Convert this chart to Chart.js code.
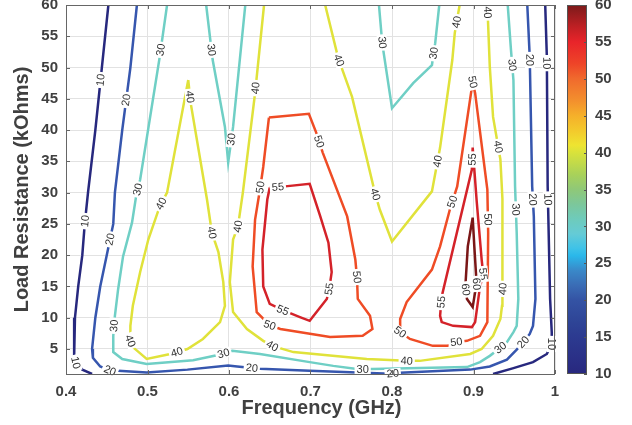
<!DOCTYPE html>
<html><head><meta charset="utf-8">
<script src="https://cdn.jsdelivr.net/npm/chart.js@4.4.1/dist/chart.umd.min.js"></script>
<style>html,body{margin:0;padding:0;background:#fff;}#wrap{width:632px;height:425px;}</style>
</head><body><div id="wrap"><canvas id="c" width="632" height="425"></canvas></div>
<script>
// ---- axis ticks ----
const xTickValues = [0.4, 0.5, 0.6, 0.7, 0.8, 0.9, 1];
const yTickValues = [5, 10, 15, 20, 25, 30, 35, 40, 45, 50, 55, 60];
const cbTickValues = [10, 15, 20, 25, 30, 35, 40, 45, 50, 55, 60];
const xTitle = 'Frequency (GHz)';
const yTitle = 'Load Resistance (kOhms)';

// ---- contour levels and colours ----
const levelColors = {10:'#27287e', 20:'#3656ae', 30:'#6fcfc5', 40:'#e0e23a', 50:'#ef4c25', 55:'#d42229', 60:'#7a1616'};

// ---- contour lines [frequency GHz, load kOhm] ----
const c10Left = [[0.452,60],[0.444,50],[0.436,40],[0.427,30],[0.423,25],[0.420,20],[0.415,15],[0.411,10],[0.410,5],[0.410,3.9],[0.412,2.8],[0.420,1.7],[0.432,1]];
const c10Right = [[0.988,60],[0.990,51.7],[0.991,31],[0.994,13],[0.996,7.7],[0.996,5.8],[0.990,4.2],[0.973,2.9],[0.948,1.9],[0.924,1]];
const c20 = [[0.487,60],[0.479,50],[0.469,40],[0.460,30],[0.458,25],[0.450,20],[0.442,15],[0.436,10],[0.432,5],[0.433,3.6],[0.442,2.2],[0.454,1.55],[0.464,1.5],[0.499,1.25],[0.549,1.7],[0.599,2.35],[0.610,2.2],[0.638,1.85],[0.699,1.5],[0.798,1.05],[0.810,1.2],[0.896,1.7],[0.920,2.2],[0.941,3.3],[0.953,4.9],[0.961,6.1],[0.969,7.4],[0.973,8.7],[0.976,13],[0.974,26.2],[0.972,31],[0.969,51.7],[0.966,60]];
const c30 = [[0.524,60],[0.515,51.7],[0.491,32.1],[0.486,29.4],[0.481,25.2],[0.470,19.8],[0.464,14.6],[0.460,10.3],[0.458,7.1],[0.458,4.5],[0.469,3.4],[0.499,2.6],[0.556,3.2],[0.585,4.0],[0.604,4.7],[0.638,4.2],[0.699,2.9],[0.728,2.3],[0.757,1.8],[0.776,1.8],[0.892,2.1],[0.908,2.9],[0.920,3.9],[0.933,5.2],[0.941,6.1],[0.949,7.7],[0.953,8.7],[0.955,13],[0.953,23.6],[0.951,31],[0.949,48],[0.946,52.8],[0.942,60]];
const c30VLeft = [[0.572,60],[0.580,51.2],[0.595,40.5],[0.599,34.8],[0.605,40.5],[0.620,60]];
const c30VRight = [[0.784,60],[0.788,53.9],[0.800,43.5],[0.826,47.5],[0.849,50.4],[0.853,53.9],[0.858,60]];
const c40Loop = [[0.550,48],[0.553,44.3],[0.573,28.9],[0.579,23.6],[0.587,20.5],[0.593,15.7],[0.595,11.9],[0.589,9.3],[0.568,6.6],[0.549,5.0],[0.528,4.2],[0.499,3.4],[0.482,5.3],[0.479,6.3],[0.479,8.7],[0.482,11.9],[0.491,17.3],[0.501,22.5],[0.515,27.8],[0.524,30],[0.550,48]];
const c40V = [[0.718,60],[0.734,51.5],[0.751,45.3],[0.779,30],[0.785,27.3],[0.800,22.2],[0.849,30.2],[0.859,37.2],[0.874,51.2],[0.877,55.5],[0.883,60]];
const c40U = [[0.643,60],[0.632,45.9],[0.617,30],[0.611,24.6],[0.605,22.5],[0.601,15.7],[0.605,10.9],[0.622,8.2],[0.642,6.3],[0.653,5.5],[0.679,4.5],[0.769,3.4],[0.818,3.1],[0.834,3.1],[0.896,4.2],[0.910,5.0],[0.924,7.1],[0.933,9.8],[0.935,11.9],[0.936,14.6],[0.935,29],[0.933,35.3],[0.924,42.1],[0.920,50.1],[0.917,60]];
const c50Mid = [[0.649,42],[0.698,42.6],[0.707,39.6],[0.715,36.4],[0.745,26.2],[0.755,19.3],[0.757,16.5],[0.758,13],[0.773,10.3],[0.776,8.2],[0.764,7.1],[0.724,6.9],[0.663,8.2],[0.650,8.8],[0.634,10.9],[0.629,18.2],[0.632,25.7],[0.638,30.5],[0.642,34.1],[0.649,42]];
const c55Mid = [[0.650,30.8],[0.669,31],[0.699,31.4],[0.712,26.2],[0.722,22],[0.726,17.3],[0.723,14.6],[0.720,13],[0.699,9.5],[0.687,10.1],[0.666,11.2],[0.650,12.2],[0.642,15],[0.641,20.9],[0.647,28.9],[0.650,30.8]];
const c50Right = [[0.899,47.7],[0.902,45.9],[0.917,30.5],[0.918,23.6],[0.917,9.3],[0.908,7.1],[0.892,6.3],[0.879,6.1],[0.868,5.5],[0.850,5.5],[0.822,6.6],[0.810,7.7],[0.810,9.8],[0.818,12.5],[0.849,17.7],[0.859,21.4],[0.871,27.3],[0.880,31],[0.899,47.7]];
const c55Right = [[0.899,37.2],[0.898,33.7],[0.861,13.4],[0.859,10.3],[0.861,9.3],[0.875,8.7],[0.898,8.5],[0.902,9.3],[0.908,15],[0.912,16.9],[0.910,19.3],[0.904,28.5],[0.899,37.2]];
const c60Right = [[0.899,26],[0.893,21.4],[0.890,15],[0.892,13],[0.899,11.7],[0.902,14.1],[0.904,15],[0.901,21.4],[0.899,26]];

const contours = [
  {level:10, pts:c10Left}, {level:10, pts:c10Right},
  {level:20, pts:c20},
  {level:30, pts:c30}, {level:30, pts:c30VLeft}, {level:30, pts:c30VRight},
  {level:40, pts:c40Loop}, {level:40, pts:c40V}, {level:40, pts:c40U},
  {level:50, pts:c50Mid}, {level:55, pts:c55Mid},
  {level:50, pts:c50Right}, {level:55, pts:c55Right}, {level:60, pts:c60Right}
];

// ---- inline contour labels [level, frequency, load] ----
const contourLabels = [
  [10,0.443,48],[10,0.426,25.4],[10,0.411,2.7],[10,0.989,50.7],[10,0.991,28.9],[10,0.996,5.8],
  [20,0.475,44.8],[20,0.455,22.5],[20,0.454,1.6],[20,0.628,2.0],[20,0.801,1.05],[20,0.961,6.1],[20,0.973,28.9],[20,0.968,51.2],
  [30,0.518,52.8],[30,0.488,30.5],[30,0.460,8.7],[30,0.593,4.4],[30,0.764,1.7],[30,0.933,5.2],[30,0.952,27.3],[30,0.947,50.4],[30,0.577,52.8],[30,0.604,38.5],[30,0.788,54],[30,0.850,52.3],
  [40,0.551,45.3],[40,0.519,28.1],[40,0.479,6.3],[40,0.536,4.5],[40,0.579,23.6],[40,0.633,46.7],[40,0.611,24.6],[40,0.653,5.5],[40,0.818,3.1],[40,0.937,14.6],[40,0.929,37.3],[40,0.916,58.8],[40,0.736,51.2],[40,0.779,29.7],[40,0.856,35],[40,0.882,57.2],
  [50,0.709,38.1],[50,0.641,30.8],[50,0.757,16.5],[50,0.650,8.8],[50,0.899,48.3],[50,0.917,25.7],[50,0.879,6.1],[50,0.810,7.7],[50,0.875,28.5],
  [55,0.660,30.8],[55,0.723,14.6],[55,0.666,11.2],[55,0.898,35.3],[55,0.861,12.5],[55,0.913,17.0],
  [60,0.890,14.5],[60,0.904,15.4]
];

// ---- colour bar colormap ----
const cbValues = [10,12,15,17,20,22,24,26,27,29,31,33,35,37,40,41,43,45,47,50,52,55,57,60];
const cbColors = ['#28287e','#2a2f86','#2c3a90','#2e4496','#3453a4','#3a6cb5','#3a88c8','#2ab7ea','#3ec2e8','#65cbd6','#6ecbbb','#7cc79b','#8fc878','#a8d15a','#d9e23b','#eee431','#f3c92c','#f5b02a','#f3902d','#f06a2d','#ee4528','#e8242a','#c02024','#7b1a1a'];

const FONT = '"Liberation Sans", Arial, sans-serif';
const TXT = '#404040';

const datasets = contours.map(c => ({
  data: c.pts.map(p => ({x:p[0], y:p[1]})),
  level: c.level,
  borderColor: levelColors[c.level],
  backgroundColor: levelColors[c.level],
  borderWidth: 2.5,
  showLine: true, pointRadius: 0, pointHoverRadius: 0, tension: 0, fill: false
}));

const labelPlugin = {
  id: 'clabels',
  afterDatasetsDraw(chart) {
    const ctx = chart.ctx, xs = chart.scales.x, ys = chart.scales.y;
    ctx.save();
    ctx.font = '11px ' + FONT;
    contourLabels.forEach(([level, lx, ly]) => {
      const px = xs.getPixelForValue(lx), py = ys.getPixelForValue(ly);
      let best = null;
      chart.data.datasets.forEach((ds, i) => {
        if (ds.level !== level) return;
        const pts = chart.getDatasetMeta(i).data;
        for (let k = 0; k < pts.length - 1; k++) {
          const a = pts[k], b = pts[k+1];
          const dx = b.x - a.x, dy = b.y - a.y, L2 = dx*dx + dy*dy || 1;
          let t = ((px - a.x)*dx + (py - a.y)*dy) / L2; t = Math.max(0, Math.min(1, t));
          const qx = a.x + t*dx, qy = a.y + t*dy, d = (qx-px)**2 + (qy-py)**2;
          if (!best || d < best.d) best = {d, qx, qy, ang: Math.atan2(dy, dx)};
        }
      });
      if (!best) return;
      let ang = best.ang;
      if (ang > Math.PI/2) ang -= Math.PI;
      if (ang <= -Math.PI/2) ang += Math.PI;
      const text = String(level);
      const w = ctx.measureText(text).width;
      ctx.save();
      ctx.translate(best.qx, best.qy);
      ctx.rotate(ang);
      ctx.fillStyle = '#fff';
      ctx.fillRect(-w/2 - 2, -5, w + 4, 10);
      ctx.fillStyle = '#333';
      ctx.textAlign = 'center'; ctx.textBaseline = 'middle';
      ctx.fillText(text, 0, 0.5);
      ctx.restore();
    });
    ctx.restore();
  }
};

const framePlugin = {
  id: 'frame',
  afterDraw(chart) {
    const {ctx, chartArea: a, scales} = chart;
    ctx.save();
    ctx.strokeStyle = '#666'; ctx.lineWidth = 1;
    ctx.strokeRect(Math.round(a.left) + 0.5, Math.round(a.top) + 0.5, Math.round(a.right - a.left) - 1, Math.round(a.bottom - a.top));
    ctx.beginPath();
    xTickValues.forEach(v => {
      const x = Math.round(scales.x.getPixelForValue(v)) + 0.5;
      ctx.moveTo(x, a.bottom); ctx.lineTo(x, a.bottom - 4);
      ctx.moveTo(x, a.top); ctx.lineTo(x, a.top + 4);
    });
    yTickValues.forEach(v => {
      const y = Math.round(scales.y.getPixelForValue(v)) + 0.5;
      ctx.moveTo(a.left, y); ctx.lineTo(a.left + 4, y);
      ctx.moveTo(a.right, y); ctx.lineTo(a.right - 4, y);
    });
    ctx.stroke();
    // x axis title (offset as in the reference)
    ctx.fillStyle = TXT;
    ctx.font = 'bold 20px ' + FONT;
    ctx.textAlign = 'center'; ctx.textBaseline = 'middle';
    ctx.fillText(xTitle, (a.left + a.right) / 2 + 11, 408);
    // colour bar
    const cb = scales.cb;
    const x0 = cb.left + 12, x1 = cb.left + 32, top = cb.top, bot = cb.bottom;
    const g = ctx.createLinearGradient(0, bot, 0, top);
    cbValues.forEach((v, i) => g.addColorStop((v - 10) / 50, cbColors[i]));
    ctx.fillStyle = g;
    ctx.fillRect(x0, top, x1 - x0, bot - top);
    ctx.strokeStyle = '#555';
    ctx.strokeRect(x0 + 0.5, top + 0.5, x1 - x0 - 1, bot - top - 1);
    ctx.beginPath();
    cbTickValues.forEach(v => {
      const y = Math.round(cb.getPixelForValue(v)) + 0.5;
      ctx.moveTo(x1, y); ctx.lineTo(x1 - 3, y);
    });
    ctx.stroke();
    ctx.restore();
  }
};

const tickFont = {family: FONT, size: 15, weight: 'bold'};
const titleFont = {family: FONT, size: 20, weight: 'bold'};

new Chart(document.getElementById('c'), {
  type: 'scatter',
  data: {datasets},
  plugins: [labelPlugin, framePlugin],
  options: {
    responsive: false, animation: false, devicePixelRatio: 1,
    layout: {padding: {top: 5, left: 0, right: 0, bottom: 0}},
    plugins: {legend: {display: false}, tooltip: {enabled: false}},
    scales: {
      x: {
        type: 'linear', min: 0.4, max: 1, position: 'bottom',
        afterBuildTicks: s => { s.ticks = xTickValues.map(v => ({value: v})); },
        afterFit: s => { s.height = 51; s.paddingLeft = 0; s.paddingRight = 0; },
        ticks: {font: tickFont, color: TXT, padding: 9, maxRotation: 0, autoSkip: false,
                callback: v => String(Math.round(v * 10) / 10)},
        grid: {color: '#e2e2e2', drawTicks: false},
        border: {display: false},
        title: {display: false}
      },
      y: {
        type: 'linear', min: 1, max: 60, position: 'left',
        afterBuildTicks: s => { s.ticks = yTickValues.map(v => ({value: v})); },
        afterFit: s => { s.width = 66; s.paddingTop = 0; s.paddingBottom = 0; },
        ticks: {font: tickFont, color: TXT, padding: 8, autoSkip: false},
        grid: {color: '#e2e2e2', drawTicks: false},
        border: {display: false},
        title: {display: true, text: yTitle, font: titleFont, color: TXT, padding: {top: 10, bottom: 0}}
      },
      cb: {
        type: 'linear', min: 10, max: 60, position: 'right',
        afterBuildTicks: s => { s.ticks = cbTickValues.map(v => ({value: v})); },
        afterFit: s => { s.width = 77; s.paddingTop = 0; s.paddingBottom = 0; },
        ticks: {font: tickFont, color: TXT, padding: 40, autoSkip: false},
        grid: {display: false, drawTicks: false},
        border: {display: false}
      }
    }
  }
});
</script>
</body></html>
